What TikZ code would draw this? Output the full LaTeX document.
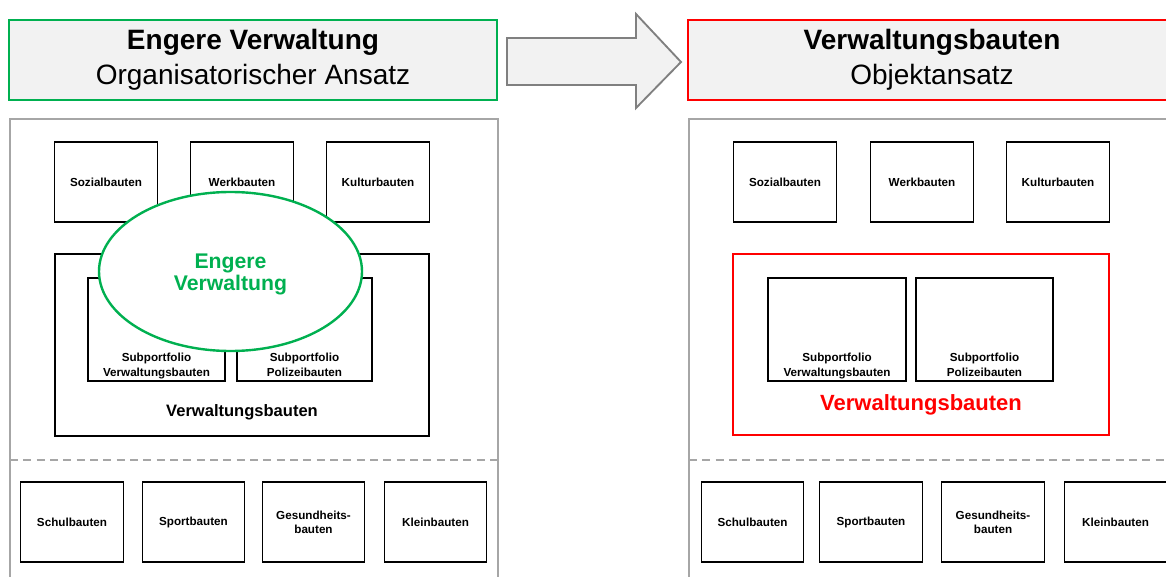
\documentclass[tikz,border=0pt]{standalone}
\usepackage{fontspec}
\setmainfont{Liberation Sans}
\usetikzlibrary{shapes.geometric}

\definecolor{kopfgrau}{HTML}{F2F2F2}
\definecolor{rahmengrau}{HTML}{A6A6A6}
\definecolor{pfeilgrau}{HTML}{808080}
\definecolor{ovalgruen}{HTML}{00B050}
\definecolor{objektrot}{HTML}{FF0000}

\tikzset{
  kopf/.style={fill=kopfgrau, line width=1.6pt, minimum width=366pt, minimum height=60pt, align=center, font=\fontsize{21}{26}\selectfont},
  feld/.style={draw=rahmengrau, line width=0.8pt},
  bau/.style={draw, line width=0.9pt, minimum width=77pt, minimum height=60pt, inner sep=1pt, align=center, font=\fontsize{8.75}{10.5}\selectfont\bfseries},
  sub/.style={draw, line width=0.9pt, minimum height=77.25pt, inner sep=0pt},
  subtext/.style={anchor=south, align=center, inner sep=0pt, font=\fontsize{8.75}{11.25}\selectfont\bfseries}
}

\begin{document}
\begin{tikzpicture}[x=0.75pt,y=-0.75pt]
	\clip (0,0) rectangle (1166,577);
	% Kopfzeilen
	\node[kopf, draw=ovalgruen] (kopfL) at (253,60) {\textbf{Engere Verwaltung}\\Organisatorischer Ansatz};
	\node[kopf, draw=objektrot] (kopfR) at (932,60) {\textbf{Verwaltungsbauten}\\Objektansatz};
	\draw[fill=kopfgrau, draw=pfeilgrau, line width=1.4pt] (507,38) -- (636,38) -- (636,14) -- (681,62) -- (636,108) -- (636,85) -- (507,85) -- cycle;

	% Felder
	\draw[feld] (10,600) -- (10,119) -- (498,119) -- (498,600);
	\draw[feld] (689,600) -- (689,119) -- (1190,119);
	\draw[feld, dashed, dash pattern=on 6pt off 4pt] (10,460) -- (498,460);
	\draw[feld, dashed, dash pattern=on 6pt off 4pt] (689,460) -- (1190,460);

	% links: organisatorischer Ansatz
	\node[bau] (sozialL) at (106,182) {Sozialbauten};
	\node[bau] (werkL) at (242,182) {Werkbauten};
	\node[bau] (kulturL) at (378,182) {Kulturbauten};
	\node[draw, line width=0.9pt, minimum width=280.5pt, minimum height=136.5pt,
		label={[anchor=center, yshift=18pt, font=\fontsize{12.4}{14}\selectfont\bfseries]south:Verwaltungsbauten}] (verwL) at (242,345) {};
	\node[sub, minimum width=102.75pt, label={[subtext]south:Subportfolio\\Verwaltungsbauten\strut}] (subvL) at (156.5,329.5) {};
	\node[sub, minimum width=101.25pt, label={[subtext]south:Subportfolio\\Polizeibauten\strut}] (subpL) at (304.5,329.5) {};
	\node[ellipse, draw=ovalgruen, fill=white, line width=1.8pt, minimum width=197.25pt, minimum height=119.25pt, inner sep=0pt,
		label={[align=center, yshift=-2.5pt, text=ovalgruen, font=\fontsize{15.9}{16.5}\selectfont\bfseries]center:Engere\\Verwaltung}] (engere) at (230.5,271.5) {};
	\node[bau] (schulL) at (72,522) {Schulbauten};
	\node[bau] (sportL) at (193.5,522) {Sportbauten};
	\node[bau] (gesundL) at (313.5,522) {Gesundheits-\\bauten};
	\node[bau] (kleinL) at (435.5,522) {Kleinbauten};

	% rechts: Objektansatz
	\node[bau] (sozialR) at (785,182) {Sozialbauten};
	\node[bau] (werkR) at (922,182) {Werkbauten};
	\node[bau] (kulturR) at (1058,182) {Kulturbauten};
	\node[draw=objektrot, line width=1.9pt, minimum width=282pt, minimum height=135.75pt,
		label={[anchor=center, yshift=23.25pt, text=objektrot, font=\fontsize{16.5}{18}\selectfont\bfseries]south:Verwaltungsbauten}] (verwR) at (921,344.5) {};
	\node[sub, minimum width=103.5pt, label={[subtext]south:Subportfolio\\Verwaltungsbauten\strut}] (subvR) at (837,329.5) {};
	\node[sub, minimum width=102.75pt, label={[subtext]south:Subportfolio\\Polizeibauten\strut}] (subpR) at (984.5,329.5) {};
	\node[bau] (schulR) at (752.5,522) {Schulbauten};
	\node[bau] (sportR) at (871,522) {Sportbauten};
	\node[bau] (gesundR) at (993,522) {Gesundheits-\\bauten};
	\node[bau] (kleinR) at (1115.5,522) {Kleinbauten};
\end{tikzpicture}
\end{document}
